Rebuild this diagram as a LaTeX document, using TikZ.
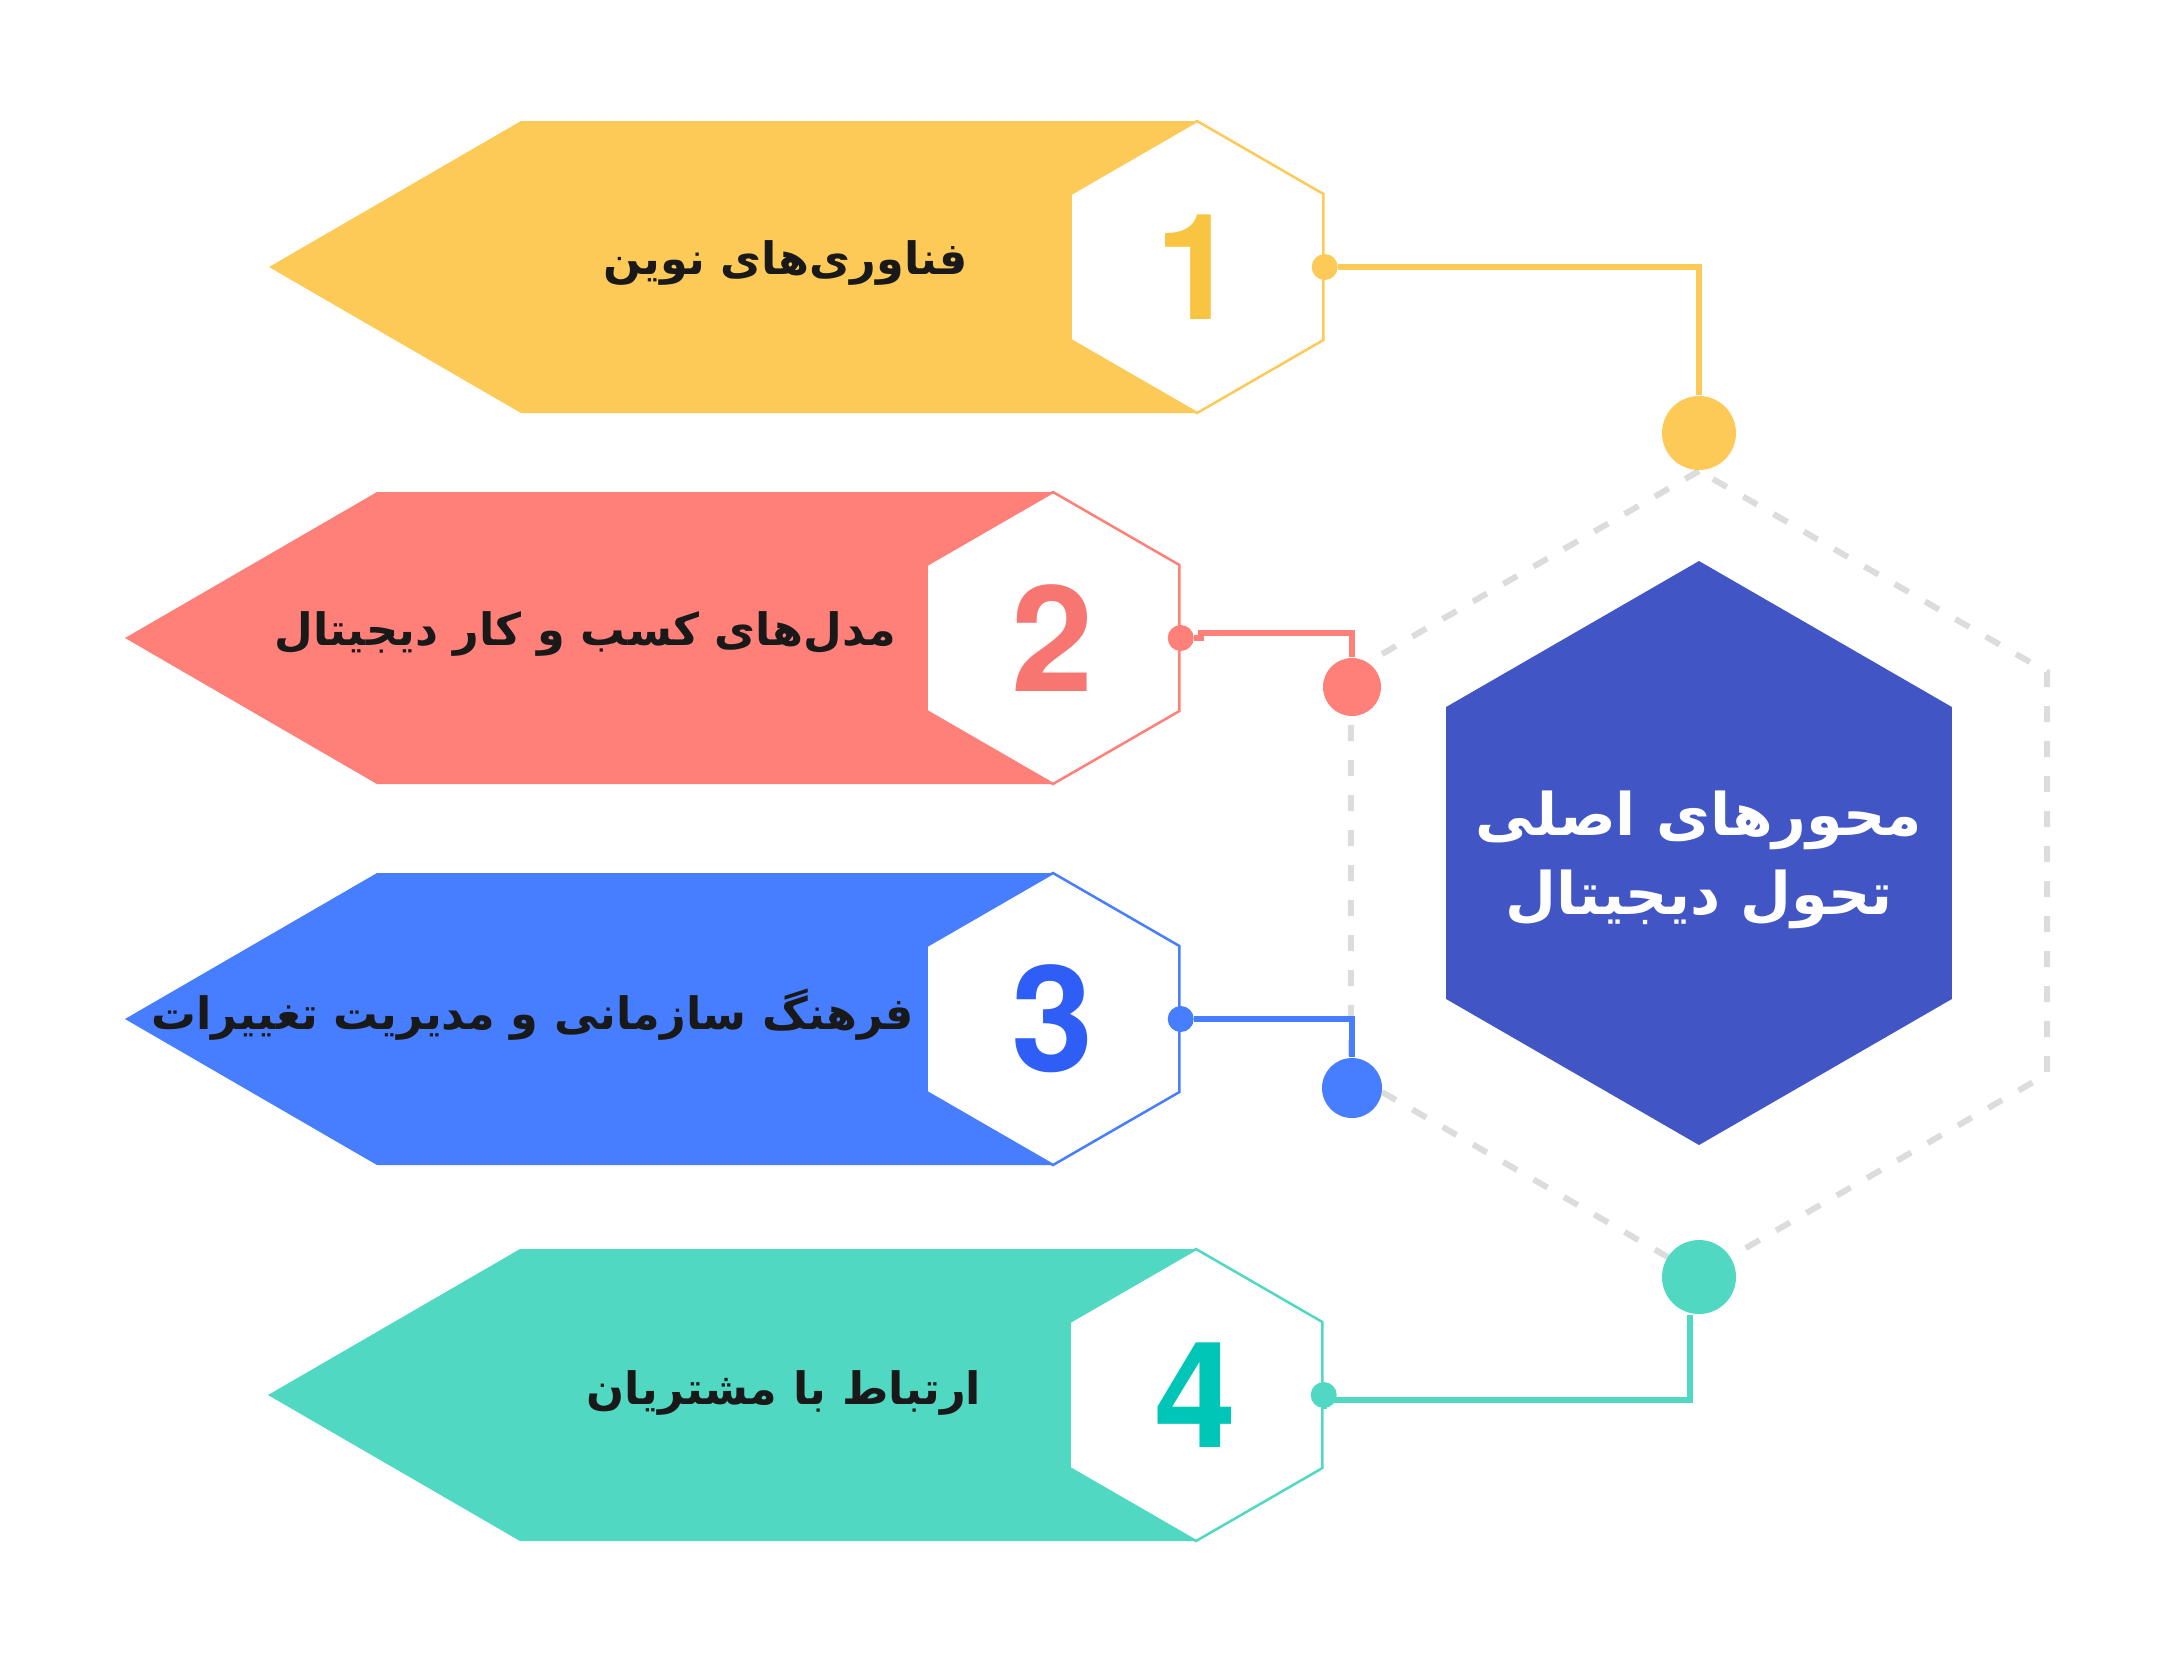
\documentclass[tikz,border=0pt]{standalone}
\usepackage{fontspec}
\setmainfont{Liberation Sans}
\newfontfamily\numfont{TeX Gyre Heros}
\newfontfamily\arabicfont[Script=Arabic]{DejaVu Sans}
\TeXXeTstate=1
\usetikzlibrary{shapes.geometric}

\definecolor{ylw}{HTML}{FDCA58}
\definecolor{ylwnum}{HTML}{F9C442}
\definecolor{rd}{HTML}{FF7F79}
\definecolor{rdnum}{HTML}{F87672}
\definecolor{bl}{HTML}{477EFF}
\definecolor{blnum}{HTML}{2E5EF6}
\definecolor{tl}{HTML}{50D8C3}
\definecolor{tlnum}{HTML}{00C6B8}
\definecolor{core}{HTML}{4255C5}
\definecolor{ringgray}{HTML}{DCDCDC}

\begin{document}
\begin{tikzpicture}[x=0.1mm,y=-0.1mm,
    hexa/.style={regular polygon,regular polygon sides=6,shape border rotate=30,inner sep=0pt},
    numhex/.style={hexa,minimum size=29.2mm,fill=white,line width=0.25mm,
      font=\numfont\bfseries\fontsize{42}{42}\selectfont},
    captext/.style={text=black!90,font=\arabicfont\bfseries\fontsize{12.7}{15}\selectfont},
    bigdot/.style={circle,inner sep=0pt},
    tipdot/.style={circle,inner sep=0pt,minimum size=2.6mm},
    link/.style={line width=0.6mm}]
  \useasboundingbox (0,0) rectangle (2172,1663);

  % center
  \node[hexa,minimum size=80.4mm,draw=ringgray,line width=0.6mm,
    dash pattern=on 1.6mm off 1.9mm] (ring) at (1699,873) {};
  \node[hexa,minimum size=58.4mm,fill=core] (hub) at (1699,853) {};
  \node[text=white,align=center,font=\arabicfont\bfseries\fontsize{16.7}{22.5}\selectfont]
    (hubtext) at ([yshift=-0.7mm]hub.center) {\beginR محورهای اصلی\endR\\\beginR تحول دیجیتال\endR};

  \node[bigdot,fill=ylw,minimum size=7.4mm] (c1) at (1699,433) {};
  \node[bigdot,fill=rd,minimum size=5.8mm] (c2) at (1352,687) {};
  \node[bigdot,fill=bl,minimum size=6mm] (c3) at (1352,1088) {};
  \node[bigdot,fill=tl,minimum size=7.4mm] (c4) at (1699,1277) {};

  % banners
  \fill[ylw] (269,267) -- (521,121) -- (1197,121) -- (1197,413) -- (521,413) -- cycle;
  \fill[rd] (125,638) -- (377,492) -- (1053,492) -- (1053,784) -- (377,784) -- cycle;
  \fill[bl] (125,1019) -- (377,873) -- (1053,873) -- (1053,1165) -- (377,1165) -- cycle;
  \fill[tl] (268,1395) -- (520,1249) -- (1196,1249) -- (1196,1541) -- (520,1541) -- cycle;

  \node[numhex,draw=ylw,text=ylwnum] (n1) at (1197,267) {1};
  \node[numhex,draw=rd,text=rdnum] (n2) at (1053,638) {2};
  \node[numhex,draw=bl,text=blnum] (n3) at (1053,1019) {3};
  \node[numhex,draw=tl,text=tlnum] (n4) at (1196,1395) {4};

  \node[captext] (t1) at (786,263) {\beginR فناوری‌های نوین\endR};
  \node[captext] (t2) at (585,634) {\beginR مدل‌های کسب و کار دیجیتال\endR};
  \node[captext] (t3) at (533,1015) {\beginR فرهنگ سازمانی و مدیریت تغییرات\endR};
  \node[captext] (t4) at (784,1393) {\beginR ارتباط با مشتریان\endR};

  \node[tipdot,fill=ylw] (d1) at (n1.east) {};
  \node[tipdot,fill=rd] (d2) at (n2.east) {};
  \node[tipdot,fill=bl] (d3) at (n3.east) {};
  \node[tipdot,fill=tl] (d4) at (n4.east) {};

  % links
  \draw[link,ylw] (d1) -| (c1);
  \draw[link,rd] (d2) -- ++(20,0) -- ++(0,-5) -| (c2);
  \draw[link,bl] (d3) -| (c3);
  \draw[link,tl] (d4) -- ++(0,5) -| ([xshift=-0.9mm]c4.south);
\end{tikzpicture}
\end{document}
